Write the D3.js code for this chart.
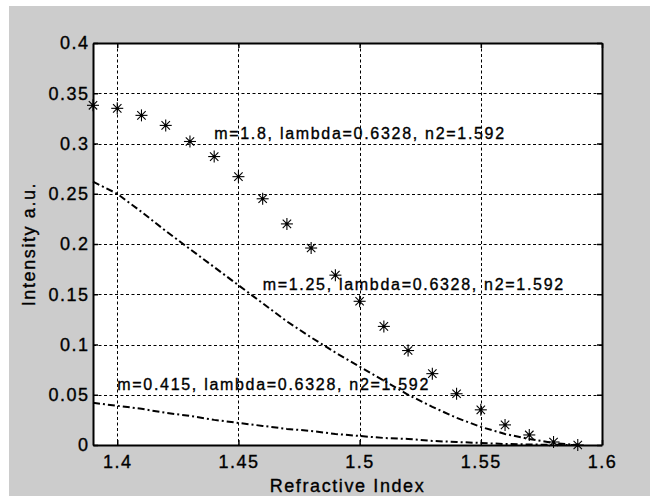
<!DOCTYPE html>
<html><head><meta charset="utf-8">
<script src="https://cdn.jsdelivr.net/npm/d3@7/dist/d3.min.js"></script>
<style>
body{margin:0;background:#fff}
text{font-family:"Liberation Sans",Arial,sans-serif;fill:#000;stroke:#000;stroke-width:0.35px}
</style>
</head><body><svg id="c" width="650" height="496"></svg>
<script>
// ---- data ----
const refractiveIndex = [1.39,1.40,1.41,1.42,1.43,1.44,1.45,1.46,1.47,1.48,1.49,1.50,1.51,1.52,1.53,1.54,1.55,1.56,1.57,1.58,1.59];
const intensityM18   = [0.338,0.335,0.328,0.318,0.302,0.287,0.267,0.245,0.220,0.196,0.169,0.143,0.118,0.094,0.071,0.051,0.035,0.020,0.010,0.003,0.000];
const intensityM125  = [0.262,0.250,0.232,0.213,0.195,0.177,0.159,0.141,0.123,0.107,0.092,0.078,0.064,0.050,0.038,0.027,0.018,0.011,0.006,0.002,0.000];
const intensityM0415 = [0.042,0.039,0.036,0.032,0.029,0.025,0.022,0.019,0.016,0.014,0.011,0.009,0.007,0.006,0.004,0.003,0.002,0.001,0.0005,0.0002,0.000];
const xTickValues = [1.4,1.45,1.5,1.55,1.6];
const xTickLabels = ["1.4","1.45","1.5","1.55","1.6"];
const yTickValues = [0,0.05,0.1,0.15,0.2,0.25,0.3,0.35,0.4];
const yTickLabels = ["0","0.05","0.1","0.15","0.2","0.25","0.3","0.35","0.4"];
const annotationLabels = ["m=1.8, lambda=0.6328, n2=1.592","m=1.25, lambda=0.6328, n2=1.592","m=0.415, lambda=0.6328, n2=1.592"];
const annotationX = [1.44,1.46,1.40];
const annotationY = [0.31,0.16,0.06];
const xDomain = [1.39,1.6];
const yDomain = [0,0.4];
const xLabel = "Refractive Index";
const yLabel = "Intensity a.u.";

// ---- layout ----
const svg = d3.select("#c");
const L=93, R=602, T=43, B=445;
svg.append("rect").attr("x",9).attr("y",6).attr("width",641).attr("height",490).attr("fill","#cccccc");
svg.append("rect").attr("x",L).attr("y",T).attr("width",R-L).attr("height",B-T).attr("fill","#fff");

const x = d3.scaleLinear().domain(xDomain).range([L,R]);
const y = d3.scaleLinear().domain(yDomain).range([B,T]);

// grid
const g = svg.append("g").attr("stroke","#000").attr("stroke-width",1).attr("stroke-dasharray","3,2.5");
g.selectAll(".gx").data(xTickValues.filter(v=>x(v)>L+1&&x(v)<R-1)).enter().append("line")
  .attr("x1",d=>Math.round(x(d))+0.5).attr("x2",d=>Math.round(x(d))+0.5).attr("y1",T).attr("y2",B);
g.selectAll(".gy").data(yTickValues.filter(v=>y(v)>T+1&&y(v)<B-1)).enter().append("line")
  .attr("y1",d=>Math.round(y(d))+0.5).attr("y2",d=>Math.round(y(d))+0.5).attr("x1",L).attr("x2",R);

// curves
const line = d3.line().x((d,i)=>x(refractiveIndex[i])).y(d=>y(d));
[intensityM125,intensityM0415].forEach(s=>{
  svg.append("path").datum(s).attr("d",line).attr("fill","none").attr("stroke","#000")
    .attr("stroke-width",2).attr("stroke-dasharray","7,3,2,3");
});

// star markers
const stars = svg.append("g").attr("stroke","#000").attr("stroke-width",1.1);
intensityM18.forEach((v,i)=>{
  const cx=x(refractiveIndex[i]), cy=y(v), r=6, d=4.2;
  const s=stars.append("g").attr("transform",`translate(${cx},${cy})`);
  s.append("line").attr("x1",-r).attr("x2",r).attr("y1",0).attr("y2",0);
  s.append("line").attr("y1",-r).attr("y2",r).attr("x1",0).attr("x2",0);
  s.append("line").attr("x1",-d).attr("y1",-d).attr("x2",d).attr("y2",d);
  s.append("line").attr("x1",-d).attr("y1",d).attr("x2",d).attr("y2",-d);
  s.append("circle").attr("r",1.7).attr("fill","#000").attr("stroke","none");
});

// annotations
annotationLabels.forEach((t,i)=>{
  svg.append("text").attr("x",x(annotationX[i])).attr("y",y(annotationY[i]))
    .attr("dy","0.36em").attr("font-size",16).attr("letter-spacing",1.7).text(t);
});

// axes
const fmtX = d=>xTickLabels[xTickValues.indexOf(d)];
const fmtY = d=>yTickLabels[yTickValues.indexOf(d)];
const ax = svg.append("g").attr("transform",`translate(0,${B})`)
  .call(d3.axisBottom(x).tickValues(xTickValues).tickFormat(fmtX).tickSizeInner(-5).tickSizeOuter(0).tickPadding(10));
const ay = svg.append("g").attr("transform",`translate(${L},0)`)
  .call(d3.axisLeft(y).tickValues(yTickValues).tickFormat(fmtY).tickSizeInner(-5).tickSizeOuter(0).tickPadding(3.5));
const at = svg.append("g").attr("transform",`translate(0,${T})`)
  .call(d3.axisTop(x).tickValues(xTickValues).tickFormat("").tickSizeInner(-5).tickSizeOuter(0));
const ar = svg.append("g").attr("transform",`translate(${R},0)`)
  .call(d3.axisRight(y).tickValues(yTickValues).tickFormat("").tickSizeInner(-5).tickSizeOuter(0));
[ax,ay,at,ar].forEach(a=>{
  a.select(".domain").attr("stroke","#000").attr("stroke-width",2);
  a.selectAll(".tick line").attr("stroke","#000").attr("stroke-width",1.5);
  a.selectAll("text").attr("font-size",18).attr("letter-spacing",1.5).attr("fill","#000")
   .style("font-family",'"Liberation Sans",Arial,sans-serif');
});

// axis labels
svg.append("text").attr("x",(L+R)/2).attr("y",492).attr("text-anchor","middle")
  .attr("font-size",18).attr("letter-spacing",1.6).text(xLabel);
svg.append("text").attr("transform",`translate(35,${(T+B)/2}) rotate(-90)`).attr("text-anchor","middle")
  .attr("font-size",18).attr("letter-spacing",1.6).text(yLabel);
</script></body></html>
